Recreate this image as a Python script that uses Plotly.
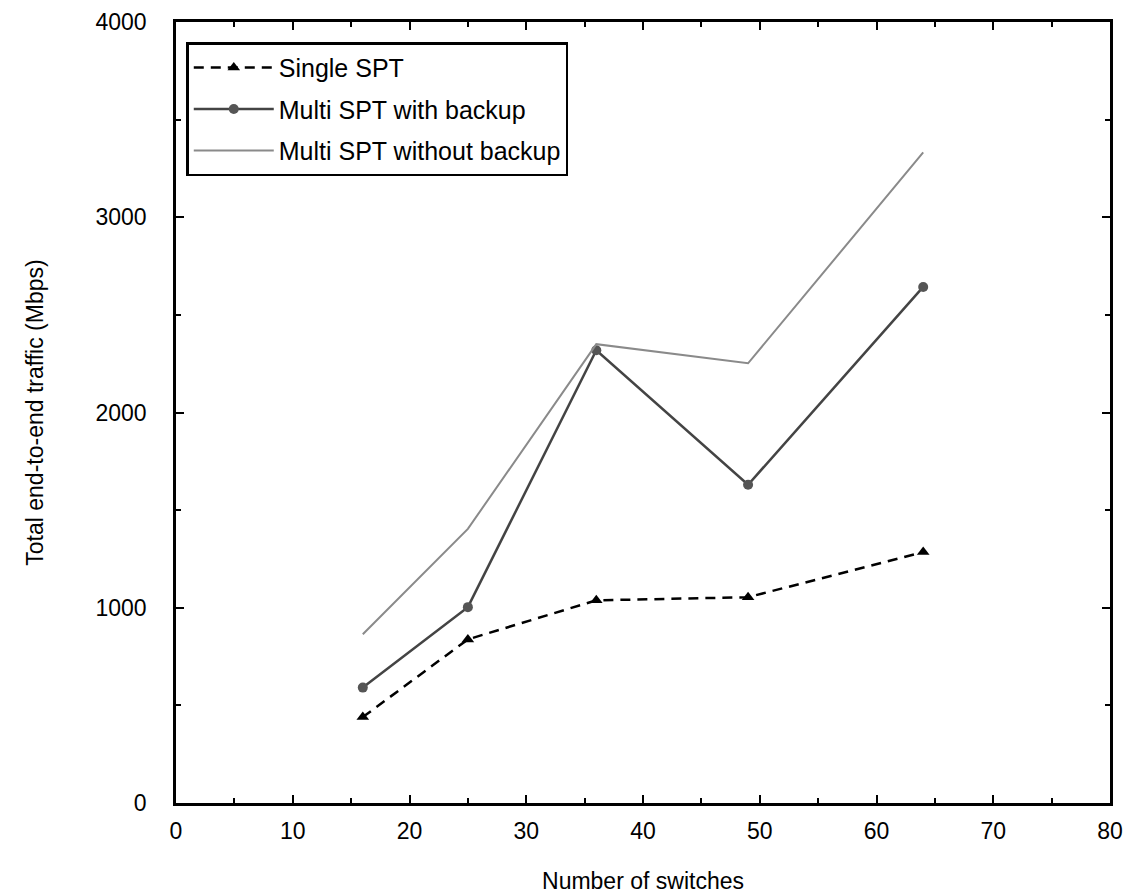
import plotly.graph_objects as go

switches = [16, 25, 36, 49, 64]
single_spt = [440, 838, 1038, 1054, 1285]
multi_backup = [591, 1003, 2319, 1630, 2643]
multi_nobackup = [864, 1404, 2350, 2252, 3332]

FONT = "Liberation Sans"

fig = go.Figure()
fig.add_trace(go.Scatter(x=switches, y=single_spt, mode="lines+markers", name="Single SPT",
                         legendgroup="a",
                         line=dict(color="black", width=2.5, dash="10px,7px"),
                         marker=dict(symbol="triangle-up", size=11, color="black")))
fig.add_trace(go.Scatter(x=switches, y=multi_backup, mode="lines+markers", name="Multi SPT with backup",
                         legendgroup="b",
                         line=dict(color="#444444", width=2.5),
                         marker=dict(symbol="circle", size=10, color="#555555")))
fig.add_trace(go.Scatter(x=switches, y=multi_nobackup, mode="lines", name="Multi SPT without backup",
                         legendgroup="c",
                         line=dict(color="#8a8a8a", width=2)))

axis_common = dict(showline=True, linecolor="black", linewidth=2.5, mirror="ticks",
                   ticks="inside", ticklen=8, tickwidth=2, tickcolor="black",
                   showgrid=False, zeroline=False, automargin=False,
                   tickfont=dict(family=FONT, size=23, color="black"))

fig.update_xaxes(range=[0, 80], dtick=10,
                 title=dict(text="Number of switches", font=dict(family=FONT, size=23, color="black"), standoff=30),
                 ticklabelstandoff=6,
                 minor=dict(ticks="inside", ticklen=5, tickwidth=2, tickcolor="black", dtick=5),
                 **axis_common)
fig.update_yaxes(range=[0, 4000], dtick=1000,
                 title=dict(text="Total end-to-end traffic (Mbps)", font=dict(family=FONT, size=23, color="black"), standoff=46),
                 ticklabelstandoff=22,
                 minor=dict(ticks="inside", ticklen=5, tickwidth=2, tickcolor="black", dtick=500),
                 **axis_common)

fig.update_layout(
    width=1134, height=895,
    margin=dict(l=168, r=32, t=14, b=100),
    paper_bgcolor="white", plot_bgcolor="white",
    font=dict(family=FONT, size=23, color="black"),
    legend=dict(x=0.011, y=0.974, xanchor="left", yanchor="top",
                bordercolor="black", borderwidth=2.5, bgcolor="white",
                font=dict(family=FONT, size=25, color="black"),
                itemwidth=80, tracegroupgap=6),
    showlegend=True,
)

fig.write_html("out.html")
